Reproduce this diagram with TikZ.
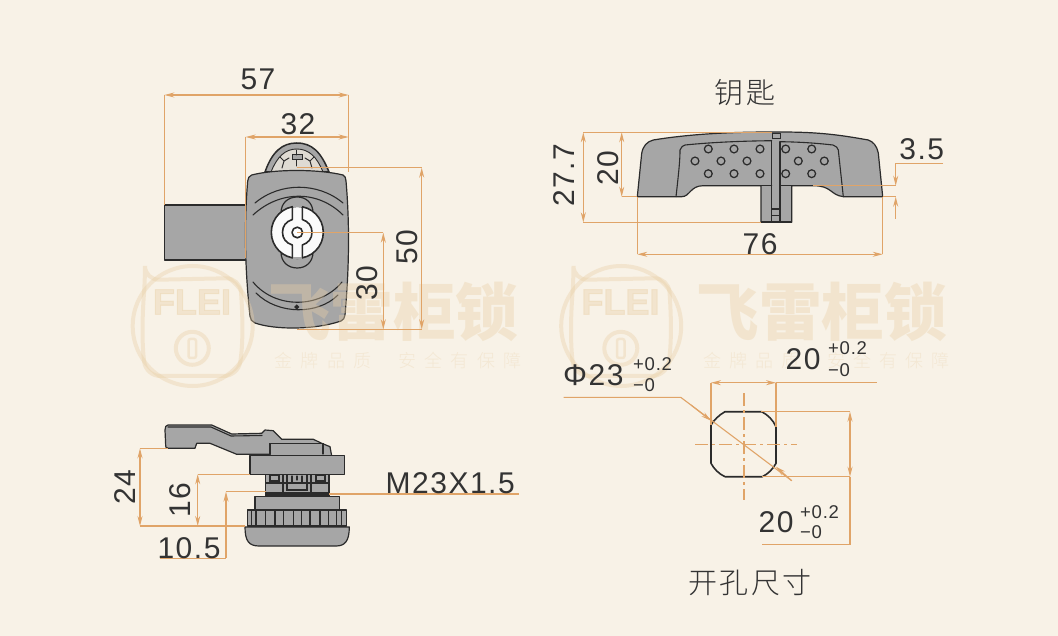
\documentclass[tikz,border=0pt]{standalone}
\usepackage{fontspec}
\setmainfont[LetterSpace=5]{Liberation Sans}
\newfontfamily\tolfont[LetterSpace=4]{Liberation Sans}
\newfontfamily\cjk[LetterSpace=8]{Noto Sans CJK SC Light}
\newfontfamily\cjkb{Noto Sans CJK SC Black}
\newfontfamily\cjks[LetterSpace=45]{Noto Sans CJK SC Light}
\newfontfamily\wmlat[FakeBold=3]{Liberation Sans Bold}
\usetikzlibrary{arrows.meta}
\definecolor{bgc}{HTML}{F8F2E7}
\definecolor{dimc}{HTML}{E0A468}
\definecolor{inkc}{HTML}{333333}
\definecolor{partc}{HTML}{A6A6A6}
\definecolor{linec}{HTML}{2B2B2B}
\definecolor{wmc}{HTML}{E9CFA6}
\tikzset{
  dimline/.style={draw=dimc,line width=1.1pt},
  dimarrow/.style={dimline,{Stealth[length=10pt,width=5pt]}-{Stealth[length=10pt,width=5pt]}},
  onearrow/.style={dimline,-{Stealth[length=10pt,width=5pt]}},
  part/.style={fill=partc,draw=linec,line width=1.2pt,line join=round},
  edge/.style={draw=linec,line width=1.1pt,line cap=round},
  thick edge/.style={draw=linec,line width=1.6pt,line join=round},
  num/.style={text=inkc,font=\fontsize{30}{30}\selectfont,inner sep=0pt},
  tol/.style={text=inkc,font=\tolfont\fontsize{18.5}{18.5}\selectfont,inner sep=0pt},
  zh/.style={text=inkc,font=\cjk\fontsize{29}{29}\selectfont,inner sep=0pt},
  wmstroke/.style={draw=wmc,opacity=.38},
}
\newcommand{\wmark}[1]{%
  \begin{scope}[shift={(#1,0)}]
    \draw[wmstroke,line width=4pt] (192.7,326) circle (60);
    \draw[wmstroke,line width=4pt,rounded corners=14pt] (145,280) -- (240,278) .. controls (243,320) and (243,345) .. (238,376) -- (146,376) .. controls (142,345) and (142,320) .. (145,280) -- cycle;
    \draw[wmstroke,line width=4pt] (192.3,348.3) circle (16.5);
    \draw[wmstroke,line width=2.5pt,rounded corners=2pt] (188.5,339) rectangle (196,358);
    \node[opacity=.38,text=wmc,inner sep=0pt,font=\wmlat\fontsize{36}{36}\selectfont] (wmlogo#1) at (192,302) {FLEI};
    \node[opacity=.38,text=wmc,inner sep=0pt,font=\cjkb\fontsize{62.5}{62.5}\selectfont] (wmname#1) at (393,312) {飞雷柜锁};
    \node[opacity=.30,text=wmc,inner sep=0pt,font=\cjks\fontsize{18}{18}\selectfont] (wmslogana#1) at (323,361) {金牌品质};
    \node[opacity=.30,text=wmc,inner sep=0pt,font=\cjks\fontsize{18}{18}\selectfont] (wmsloganb#1) at (460,361) {安全有保障};
  \end{scope}}
\begin{document}
\begin{tikzpicture}[x=1pt,y=-1pt]
\useasboundingbox (0,0) rectangle (1058,636);
\fill[bgc] (0,0) rectangle (1058,636);

% ---------- front view ----------
\fill[partc,draw=linec,line width=1.2pt,line join=round] (164.3,205) rectangle (247,260);
\filldraw[fill=partc,draw=linec,line width=1.5pt] (265,172) .. controls (272,152) and (282,143) .. (296.7,143) .. controls (312,143) and (321,152) .. (329,172) -- cycle;
\draw[edge,line width=.9pt,fill=bgc!70!partc] (271,172) .. controls (277,157) and (285,149) .. (296.7,149) .. controls (309,149) and (317,157) .. (323,172) -- cycle;
\draw[edge,line width=1pt] (282,168) -- (284,161) -- (280,157) (284,161) -- (289,158)
  (312,168) -- (310,161) -- (314,157) (310,161) -- (305,158);
\draw[edge,line width=1pt,fill=partc] (292,155) rectangle (302,160);
\draw[edge,line width=1pt] (296.7,150) -- (296.7,155) (296.7,160) -- (296.7,166);
\draw[part] (251.7,175) .. controls (275,169) and (318,169) .. (343,175) .. controls (345,176) and (346,178) .. (346,181)
  .. controls (349,215) and (350,260) .. (345,315) .. controls (345,318) and (343,320) .. (341,321)
  .. controls (315,330) and (275,330) .. (255,323) .. controls (252,322) and (250,319) .. (250,316)
  .. controls (245,270) and (244,225) .. (247.7,181) .. controls (248,178) and (249,176) .. (251.7,175) -- cycle;
\draw[edge] (255,203) .. controls (280,182) and (318,182) .. (343,203);
\draw[edge] (253,215) .. controls (280,190) and (318,190) .. (343,215);
\draw[edge] (253,282) .. controls (275,309) and (320,309) .. (342,282);
\draw[edge] (256,293) .. controls (278,315) and (318,315) .. (338,295);
\draw[edge,fill=linec] (296.7,307) circle (1.8);
\draw[part] (281,213) .. controls (281,203) and (288,197) .. (297.3,197) .. controls (306,197) and (313,203) .. (313,213) -- (313,252) .. controls (313,262) and (306,268) .. (297.3,268) .. controls (288,268) and (281,262) .. (281,252) -- cycle;
\draw[thick edge,fill=white!95!partc] (297.3,232.3) circle (26);
\fill[partc] (293,205) rectangle (302,207);
\fill[partc] (293,257.5) rectangle (302,259.5);
\draw[thick edge] (292.3,207) -- (292.3,219.5) .. controls (286,221.5) and (282.5,226) .. (282.5,232.3) .. controls (282.5,238.5) and (286,243) .. (292.3,245) -- (292.3,257.5);
\draw[thick edge] (302.3,207) -- (302.3,219.5) .. controls (308.5,221.5) and (312,226) .. (312,232.3) .. controls (312,238.5) and (308.5,243) .. (302.3,245) -- (302.3,257.5);
\draw[thick edge,fill=white] (297.3,232.5) circle (5.3);

% ---------- side view ----------
\draw[part] (165,430) .. controls (165,427) and (166,425) .. (168,425) -- (211.7,425) -- (231.7,434) -- (261.7,433.3) -- (265,430) -- (273.3,430.7) -- (281.7,439.3) -- (313.3,439.3) -- (321.7,443.3) -- (330,446.7) -- (331.7,456) -- (270,456) -- (270,454.3) -- (236.7,454.3) -- (210,443.3) -- (196.7,443.3) -- (195,448.3) -- (168.3,448.3) .. controls (166,448) and (165.7,447) .. (165.7,446) -- cycle;
\draw[edge] (168,427) -- (211,427) -- (231,436) -- (262,435.5);
\draw[edge] (270,454.3) -- (270,443.3) -- (323,443.3) -- (323,454);
\draw[part] (265.7,474) rectangle (329,497);
\fill[linec] (265.7,492) rectangle (329,497);
\draw[edge] (265.7,483) -- (329,483);
\draw[edge,fill=partc] (270,475) rectangle (279,481);
\draw[edge,fill=partc] (316,475) rectangle (325,481);
\draw[edge] (283,474) -- (283,493) (287,474) -- (287,490) -- (307,490) -- (307,474) (311,474) -- (311,493) (297,476) -- (297,480);
\draw[edge] (292,476) -- (292,482) (302,476) -- (302,482);
\draw[part] (250,455.7) rectangle (344.3,474.3);
\draw[part] (255,496.7) rectangle (339.3,510);
\draw[part] (247.3,510) rectangle (346.7,526);
\foreach \kx in {251.5,256,265.7,275,283.3,293.3,301.7,310,320,328.3,336.7,341.7}
  \draw[edge,line width=1.2pt] (\kx,510) -- (\kx,526);
\draw[part] (245,527) .. controls (245,541) and (249,546) .. (259,546) -- (336,546) .. controls (345,546) and (349.3,541) .. (349.3,527) -- cycle;

% ---------- key ----------
\draw[part] (637.3,196.7) -- (641.7,153.3) .. controls (643,146) and (647,141.5) .. (653.3,140) .. controls (690,134) and (730,132) .. (771.7,132) -- (780,132) .. controls (820,132) and (840,135) .. (868.3,140) .. controls (873,141.5) and (877,146) .. (878.3,153) -- (882.7,196.7) -- (843.3,196.7) .. controls (830,195) and (832,185.7) .. (813.3,185.7) -- (791.7,185.7) -- (791.7,222.3) -- (761,222.3) -- (761,185.7) -- (703.3,185.7) .. controls (690,185.7) and (690,196.7) .. (681.7,196.7) -- cycle;
\draw[edge,fill=partc,line width=.9pt] (772.3,133.3) rectangle (780,138.3);
\draw[edge] (676,196.7) .. controls (679,170) and (680,160) .. (680,150) .. controls (681,147) and (683,145.5) .. (685,145) .. controls (715,142) and (745,141) .. (771.7,140.7);
\draw[edge] (771.7,140.7) -- (771.7,222) (780,141.7) -- (780,222);
\draw[edge] (780,141.7) .. controls (800,142) and (815,143) .. (833,145) .. controls (836,146) and (838,148) .. (838.3,150) -- (843.3,196.7);
\draw[edge] (703.3,185.7) -- (771.7,185.7) (780,185.7) -- (813.3,185.7);
\draw[edge] (771.7,209) -- (780,209) (771.7,215.7) -- (780,215.7);
\draw[line width=1.6pt,linec] (761,221.8) -- (791.7,221.8);
\foreach \dx/\dy in {708.3/149,734/149,760/149,695/161,721/161,747/161,708.3/173.7,734/173.7,760/173.7,785.7/149,811.7/149,798.3/161,824.3/161,785.7/173.7,811.7/173.7}
  \draw[edge,line width=1.25pt] (\dx,\dy) circle (3.9);

% ---------- hole ----------
\draw[thick edge] (725,411.7) -- (761.7,411.7) .. controls (768,415) and (773,420) .. (776,426.7) -- (776,463.3) .. controls (773,469) and (768,474) .. (762.3,476.7) -- (725,476.7) .. controls (719,474) and (714,469) .. (711,463.3) -- (711,425) .. controls (714,420) and (719,415) .. (725,411.7) -- cycle;

% ---------- watermark ----------
\wmark{0}
\wmark{428.5}

% ---------- dimensions: front ----------
\draw[dimarrow] (164.3,95) -- (348.7,95);
\draw[dimline] (164.3,95) -- (164.3,205) (348.7,95) -- (348.7,172);
\draw[dimarrow] (245.7,137) -- (348.7,137);
\draw[dimline] (245.7,137) -- (245.7,258);
\draw[dimarrow] (421.7,167.7) -- (421.7,329.3);
\draw[dimarrow] (383.3,232.7) -- (383.3,329.3);
\draw[dimline] (297.3,232.7) -- (383.3,232.7) (297,167.7) -- (421.7,167.7) (297,329.3) -- (421.7,329.3);
\node[num] (n57) at (258,79) {57};
\node[num] (n32) at (298,124) {32};
\node[num,rotate=90] (n50) at (407,247) {50};
\node[num,rotate=90] (n30) at (367,283) {30};

% ---------- dimensions: side ----------
\draw[dimarrow] (140,448.3) -- (140,526);
\draw[dimline] (140,448.3) -- (168,448.3) (140,526) -- (245,526);
\draw[dimarrow] (197.7,474.3) -- (197.7,526);
\draw[dimline] (197.7,474.3) -- (250,474.3);
\draw[onearrow] (226,558.3) -- (226,491.7);
\draw[dimline] (226,491.7) -- (265.7,491.7) (160,558.3) -- (226,558.3);
\draw[dimline] (329,494) -- (519,494);
\node[num,anchor=west] (nm) at (385.5,483) {M23X1.5};
\node[num,rotate=90] (n24) at (125,487) {24};
\node[num,rotate=90] (n16) at (180,500) {16};
\node[num] (n105) at (189,548) {10.5};

% ---------- dimensions: key ----------
\draw[dimarrow] (583.3,132.3) -- (583.3,222.3);
\draw[dimarrow] (621.7,132.3) -- (621.7,196.7);
\draw[dimline] (583.3,132.3) -- (772,132.3) (583.3,222.3) -- (761,222.3) (621.7,196.7) -- (637.3,196.7);
\draw[dimarrow] (637.3,254.3) -- (882.7,254.3);
\draw[dimline] (637.3,196.7) -- (637.3,254.3) (882.7,196.7) -- (882.7,254.3);
\draw[dimline] (943,163.3) -- (895.7,163.3) (813,185.7) -- (895.7,185.7) (882.7,196.7) -- (895.7,196.7);
\draw[onearrow] (895.7,163.3) -- (895.7,185.7);
\draw[onearrow] (895.7,219) -- (895.7,196.7);
\node[num] (n277) at (564,175) [rotate=90] {27.7};
\node[num] (n20k) at (608.3,168) [rotate=90] {20};
\node[num] (n76) at (760,244) {76};
\node[num] (n35) at (921.7,149.5) {3.5};
\node[zh] (tkey) at (745,92.7) {钥匙};

% ---------- dimensions: hole ----------
\draw[dimline,dash pattern=on 13pt off 4pt on 3pt off 4pt] (695,444.3) -- (796.7,444.3);
\draw[dimline,dash pattern=on 13pt off 4pt on 3pt off 4pt] (744,393.3) -- (744,500);
\draw[dimarrow] (711,382.7) -- (776,382.7);
\draw[dimline] (776,382.7) -- (876.7,382.7) (711,382.7) -- (711,425) (776,382.7) -- (776,427);
\draw[dimarrow] (850,411.7) -- (850,476.7);
\draw[dimline] (850,476.7) -- (850,544.3) -- (761.7,544.3) (761,411.7) -- (850,411.7) (762,476.7) -- (850,476.7);
\draw[dimline] (563.7,397.3) -- (680.7,397.3) -- (791.7,480.7);
\draw[onearrow] (691,405) -- (711,420.7);
\draw[onearrow] (791.7,480.7) -- (776,466.7);
\node[num,anchor=west] (nphi) at (563,375) {Φ23};
\node[tol,anchor=west] (tp1) at (633,364) {+0.2};
\node[tol,anchor=west] (tm1) at (633,385) {−0};
\node[num] (n20a) at (803,359) {20};
\node[tol,anchor=west] (tp2) at (828,348) {+0.2};
\node[tol,anchor=west] (tm2) at (828,370) {−0};
\node[num] (n20b) at (776,521.7) {20};
\node[tol,anchor=west] (tp3) at (800,511.7) {+0.2};
\node[tol,anchor=west] (tm3) at (800,532.3) {−0};
\node[zh] (thole) at (750,582.3) {开孔尺寸};
\end{tikzpicture}
\end{document}
